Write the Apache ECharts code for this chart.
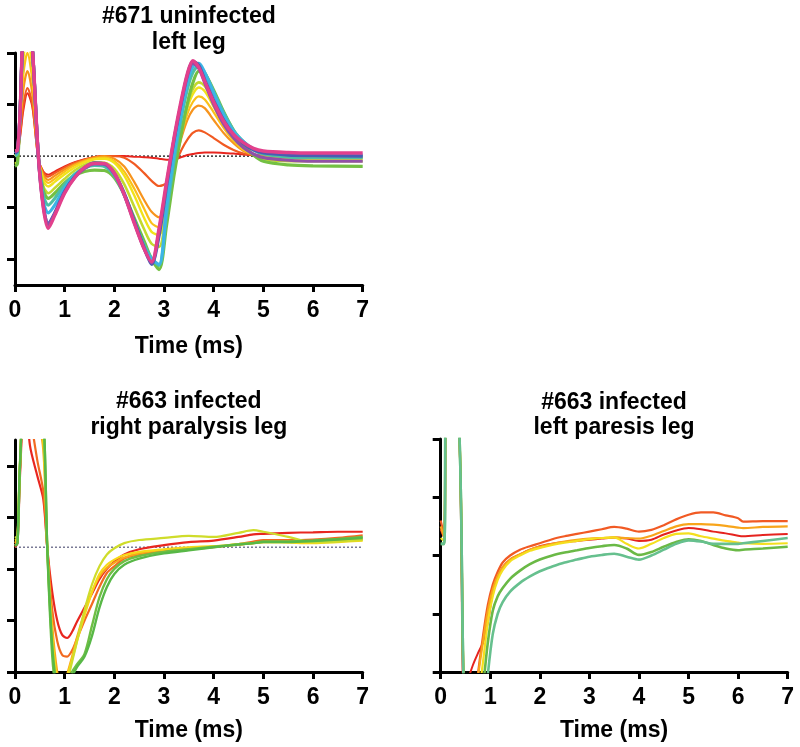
<!DOCTYPE html>
<html><head><meta charset="utf-8">
<script src="https://cdn.jsdelivr.net/npm/echarts@6/dist/echarts.min.js"></script>
<style>html,body{margin:0;padding:0;background:#fff}#c{width:800px;height:747px}</style>
</head><body><div id="c"></div>
<script>
// ---------- Panel 1: #671 uninfected, left leg ----------
const T1 = [0, 0.05, 0.1, 0.17, 0.25, 0.35, 0.47, 0.57, 0.67, 0.8, 1.0, 1.2, 1.4, 1.6, 1.8, 2.0, 2.2, 2.4, 2.6, 2.75, 2.9, 3.05, 3.2, 3.35, 3.47, 3.58, 3.7, 3.82, 4.0, 4.2, 4.4, 4.6, 4.8, 5.0, 5.5, 6.0, 7.0];
const p1Red = [0.0, 0.05, 0.35, 0.9, 1.22, 0.95, -0.05, -0.3, -0.36, -0.3, -0.2, -0.12, -0.06, -0.02, 0.0, 0.0, 0.0, -0.01, -0.02, -0.03, -0.05, -0.07, -0.06, -0.02, 0.02, 0.04, 0.06, 0.07, 0.07, 0.06, 0.05, 0.03, 0.02, 0.01, 0.0, 0.0, 0.0];
const p1OrangeRed = [0.0, 0.08, 0.4, 1.0, 1.32, 1.0, -0.05, -0.32, -0.4, -0.33, -0.22, -0.13, -0.07, -0.02, 0.0, 0.0, -0.03, -0.15, -0.33, -0.48, -0.58, -0.52, -0.2, 0.12, 0.32, 0.45, 0.5, 0.46, 0.35, 0.22, 0.12, 0.05, 0.02, 0.01, 0.0, 0.0, 0.0];
const p1Orange = [0.0, 0.08, 0.5, 1.3, 1.65, 1.2, -0.05, -0.37, -0.46, -0.38, -0.26, -0.16, -0.08, -0.03, 0.0, -0.05, -0.2, -0.5, -0.85, -1.08, -1.19, -0.85, -0.22, 0.35, 0.7, 0.9, 0.98, 0.93, 0.7, 0.45, 0.25, 0.1, 0.03, 0.0, 0.0, 0.0, 0.0];
const p1Gold = [0.0, 0.1, 0.6, 1.6, 2.0, 1.45, 0.0, -0.42, -0.52, -0.44, -0.3, -0.18, -0.1, -0.05, -0.03, -0.1, -0.3, -0.63, -1.02, -1.3, -1.38, -0.9, -0.2, 0.42, 0.82, 1.05, 1.16, 1.1, 0.85, 0.55, 0.3, 0.12, 0.03, -0.01, -0.03, -0.03, -0.03];
const p1Yellow = [0.0, 0.05, 0.7, 1.9, 2.3, 1.7, 0.0, -0.48, -0.59, -0.5, -0.35, -0.22, -0.12, -0.06, -0.05, -0.13, -0.38, -0.76, -1.2, -1.47, -1.53, -0.95, -0.2, 0.48, 0.93, 1.2, 1.33, 1.26, 0.96, 0.6, 0.33, 0.14, 0.03, -0.03, -0.05, -0.05, -0.05];
const p1YellowGreen = [-0.15, -0.1, 0.7, 2.2, 2.7, 1.9, 0.0, -0.58, -0.72, -0.62, -0.44, -0.28, -0.17, -0.12, -0.13, -0.25, -0.55, -0.98, -1.42, -1.7, -1.76, -1.05, -0.25, 0.5, 1.0, 1.3, 1.43, 1.36, 1.05, 0.7, 0.4, 0.18, 0.02, -0.06, -0.1, -0.1, -0.1];
const p1Green = [-0.2, -0.15, 0.8, 2.5, 3.0, 2.1, 0.0, -0.66, -0.82, -0.72, -0.52, -0.38, -0.3, -0.27, -0.28, -0.42, -0.75, -1.2, -1.65, -2.0, -2.2, -1.35, -0.38, 0.45, 1.02, 1.42, 1.65, 1.6, 1.28, 0.86, 0.5, 0.22, 0.02, -0.1, -0.17, -0.19, -0.2];
const p1Teal = [0.0, 0.05, 0.8, 2.5, 3.0, 2.1, 0.0, -0.76, -0.95, -0.82, -0.55, -0.35, -0.23, -0.18, -0.2, -0.38, -0.75, -1.25, -1.72, -1.98, -2.12, -1.15, -0.1, 0.75, 1.3, 1.62, 1.75, 1.62, 1.25, 0.84, 0.5, 0.28, 0.12, 0.04, -0.02, -0.03, -0.03];
const p1Cyan = [0.05, 0.1, 0.8, 2.5, 3.0, 2.1, 0.0, -0.88, -1.1, -0.95, -0.62, -0.38, -0.23, -0.15, -0.16, -0.35, -0.75, -1.28, -1.78, -2.0, -2.1, -1.0, 0.02, 0.85, 1.42, 1.74, 1.8, 1.62, 1.22, 0.8, 0.48, 0.28, 0.14, 0.07, 0.03, 0.02, 0.02];
const p1Blue = [0.05, 0.1, 0.8, 2.6, 3.0, 2.1, 0.0, -0.95, -1.3, -1.1, -0.68, -0.4, -0.22, -0.13, -0.15, -0.33, -0.72, -1.25, -1.78, -2.1, -1.55, -0.6, 0.3, 1.05, 1.58, 1.84, 1.76, 1.48, 1.08, 0.7, 0.42, 0.24, 0.12, 0.06, 0.02, 0.01, 0.0];
const p1Purple = [0.1, 0.12, 0.8, 2.6, 3.0, 2.1, 0.0, -0.98, -1.33, -1.12, -0.7, -0.42, -0.24, -0.15, -0.16, -0.35, -0.75, -1.28, -1.8, -2.07, -1.45, -0.55, 0.32, 1.05, 1.55, 1.8, 1.7, 1.42, 1.0, 0.62, 0.35, 0.16, 0.04, -0.03, -0.08, -0.1, -0.1];
const p1Magenta = [0.1, 0.12, 0.8, 2.6, 3.0, 2.1, 0.0, -1.0, -1.4, -1.15, -0.72, -0.42, -0.22, -0.14, -0.14, -0.33, -0.75, -1.3, -1.8, -2.05, -1.4, -0.5, 0.35, 1.1, 1.6, 1.85, 1.72, 1.45, 1.05, 0.68, 0.42, 0.26, 0.15, 0.1, 0.07, 0.06, 0.06];
const p1Baseline = 0;
const p1YTicks = [-2, -1, 0, 1, 2];

// ---------- Panel 2: #663 infected, right paralysis leg ----------
const T2 = [0, 0.05, 0.1, 0.2, 0.3, 0.45, 0.57, 0.65, 0.75, 0.85, 0.95, 1.05, 1.15, 1.25, 1.4, 1.55, 1.7, 1.85, 2.0, 2.2, 2.5, 3.0, 3.5, 4.0, 4.5, 4.8, 5.0, 5.5, 6.0, 6.5, 7.0];
const p2Red = [2.42, 2.5, 3.8, 5.5, 4.4, 3.8, 3.35, 2.4, 1.55, 1.0, 0.72, 0.66, 0.78, 0.98, 1.25, 1.52, 1.8, 2.0, 2.14, 2.28, 2.38, 2.46, 2.52, 2.55, 2.62, 2.67, 2.68, 2.7, 2.71, 2.72, 2.72];
const p2Orange = [2.45, 2.55, 3.9, 5.5, 5.0, 4.1, 3.5, 2.4, 1.2, 0.6, 0.33, 0.3, 0.42, 0.65, 1.0, 1.32, 1.65, 1.92, 2.05, 2.2, 2.28, 2.35, 2.38, 2.42, 2.48, 2.53, 2.56, 2.56, 2.57, 2.6, 2.65];
const p2Amber = [2.5, 2.6, 4.0, 5.5, 5.5, 5.0, 4.3, 2.4, 0.9, 0.0, -0.4, -0.05, 0.3, 0.68, 1.15, 1.55, 1.85, 2.02, 2.12, 2.22, 2.3, 2.37, 2.4, 2.43, 2.47, 2.5, 2.52, 2.53, 2.53, 2.55, 2.58];
const p2Yellow = [2.55, 2.6, 4.0, 5.5, 5.5, 5.2, 4.5, 2.4, 0.7, -0.15, -0.45, -0.1, 0.25, 0.6, 1.1, 1.55, 1.9, 2.08, 2.18, 2.27, 2.33, 2.38, 2.42, 2.44, 2.48, 2.5, 2.52, 2.51, 2.5, 2.52, 2.55];
const p2YellowGreen = [2.6, 2.65, 4.1, 5.5, 5.5, 5.3, 4.7, 2.4, 0.6, -0.3, -0.6, -0.2, 0.2, 0.6, 1.2, 1.7, 2.05, 2.28, 2.4, 2.5, 2.56, 2.6, 2.64, 2.62, 2.7, 2.75, 2.72, 2.62, 2.52, 2.53, 2.56];
const p2Green = [2.45, 2.5, 4.0, 5.5, 5.5, 5.5, 5.0, 2.4, 0.3, -0.5, -0.8, -0.4, 0.0, 0.15, 0.35, 0.9, 1.45, 1.8, 2.0, 2.15, 2.25, 2.33, 2.38, 2.43, 2.48, 2.5, 2.53, 2.53, 2.55, 2.58, 2.62];
const p2Green2 = [2.45, 2.5, 4.0, 5.5, 5.5, 5.5, 5.0, 2.4, 0.5, -0.4, -0.9, -0.6, -0.1, 0.1, 0.3, 0.7, 1.25, 1.65, 1.9, 2.08, 2.2, 2.3, 2.36, 2.42, 2.47, 2.5, 2.52, 2.52, 2.54, 2.57, 2.6];
const p2Baseline = 2.42;
const p2YTicks = [0, 1, 2, 3, 4];

// ---------- Panel 3: #663 infected, left paresis leg ----------
const T3 = [0, 0.07, 0.13, 0.36, 0.47, 0.55, 0.65, 0.75, 0.85, 0.95, 1.05, 1.15, 1.25, 1.4, 1.6, 1.8, 2.0, 2.25, 2.5, 2.75, 3.0, 3.25, 3.5, 3.75, 4.0, 4.25, 4.5, 4.75, 5.0, 5.25, 5.5, 5.75, 6.0, 6.1, 6.5, 7.0];
const p3Red = [2.45, 2.3, 6, 4.5, -0.5, -0.15, 0.12, 0.32, 0.5, 0.85, 1.35, 1.62, 1.8, 1.93, 2.02, 2.1, 2.16, 2.2, 2.23, 2.25, 2.27, 2.29, 2.31, 2.29, 2.25, 2.27, 2.36, 2.43, 2.47, 2.45, 2.41, 2.38, 2.34, 2.33, 2.35, 2.37];
const p3OrangeRed = [2.6, 2.35, 6, 4.5, -0.5, -1, -1, -0.05, 0.6, 1.15, 1.5, 1.72, 1.88, 2.0, 2.1, 2.16, 2.21, 2.28, 2.33, 2.37, 2.41, 2.45, 2.49, 2.46, 2.41, 2.44, 2.52, 2.62, 2.7, 2.74, 2.74, 2.69, 2.64, 2.58, 2.59, 2.59];
const p3Amber = [2.5, 2.3, 6, 4.5, -0.5, -1, -1, -0.1, 0.5, 1.05, 1.42, 1.65, 1.8, 1.93, 2.02, 2.1, 2.15, 2.2, 2.24, 2.27, 2.29, 2.3, 2.31, 2.3, 2.29, 2.34, 2.42, 2.5, 2.54, 2.54, 2.53, 2.51, 2.48, 2.47, 2.49, 2.5];
const p3Yellow = [2.3, 2.25, 6, 4.5, -0.5, -1, -1, -0.5, 0.15, 0.85, 1.3, 1.58, 1.75, 1.9, 2.0, 2.08, 2.13, 2.18, 2.22, 2.25, 2.28, 2.3, 2.31, 2.2, 2.12, 2.2, 2.3, 2.37, 2.38, 2.33, 2.29, 2.25, 2.22, 2.21, 2.2, 2.21];
const p3Green = [2.2, 2.2, 6, 4.5, -0.5, -1, -1, -1, -0.3, 0.5, 1.05, 1.3, 1.44, 1.6, 1.74, 1.85, 1.93, 2.0, 2.05, 2.09, 2.13, 2.16, 2.18, 2.12, 2.01, 2.06, 2.15, 2.23, 2.28, 2.25, 2.18, 2.12, 2.09, 2.1, 2.12, 2.15];
const p3Teal = [2.2, 2.2, 6, 4.5, -0.5, -1, -1, -1, -1, -0.05, 0.65, 1.0, 1.2, 1.38, 1.53, 1.64, 1.73, 1.81, 1.88, 1.93, 1.98, 2.01, 2.03, 1.98, 1.93, 2.0, 2.1, 2.2, 2.26, 2.24, 2.2, 2.2, 2.2, 2.21, 2.25, 2.3];
const p3YTicks = [0, 1, 2, 3, 4];

const xTicks = ['0', '1', '2', '3', '4', '5', '6', '7'];
const titles = [['#671 uninfected', 'left leg'], ['#663 infected', 'right paralysis leg'], ['#663 infected', 'left paresis leg']];
const xName = 'Time (ms)';

const FONT = '"Liberation Sans", Arial, Helvetica, sans-serif';

function xAx(gi) {
  return {
    type: 'value', gridIndex: gi, min: 0, max: 7, interval: 1,
    axisLine: { show: true, onZero: false, lineStyle: { color: '#000', width: 3 } },
    axisTick: { show: true, length: 7, lineStyle: { color: '#000', width: 3 } },
    axisLabel: { color: '#000', fontSize: 23, fontWeight: 'bold', fontFamily: FONT, margin: 14, lineHeight: 23,
      formatter: v => xTicks[Math.round(v)] },
    splitLine: { show: false }
  };
}
function yAx(gi, min, max, ticks) {
  return {
    type: 'value', gridIndex: gi, min: min, max: max,
    axisLine: { show: true, onZero: false, lineStyle: { color: '#000', width: 3 } },
    axisTick: { show: true, length: 8, customValues: ticks, lineStyle: { color: '#000', width: 3 } },
    axisLabel: { show: false, customValues: ticks },
    splitLine: { show: false }
  };
}
function ln(gi, T, vals, color, width) {
  return {
    type: 'line', xAxisIndex: gi, yAxisIndex: gi,
    data: T.map((t, i) => [t, vals[i]]),
    symbol: 'none', showSymbol: false, smooth: 0.3, clip: true,
    lineStyle: { color: color, width: width }, emphasis: { disabled: true }, silent: true
  };
}
function base(gi, b, color) {
  return {
    type: 'line', xAxisIndex: gi, yAxisIndex: gi,
    data: [[0, b], [7, b]], symbol: 'none', showSymbol: false, silent: true,
    lineStyle: { color: color, width: 1.3, type: [2, 2] }
  };
}

const series = [
  base(0, p1Baseline, '#111'),
  ln(0, T1, p1Red, '#e8261f', 2),
  ln(0, T1, p1OrangeRed, '#f15a22', 2.2),
  ln(0, T1, p1Orange, '#f7941d', 2.2),
  ln(0, T1, p1Gold, '#fbc01a', 2.2),
  ln(0, T1, p1Yellow, '#f1e21b', 2.4),
  ln(0, T1, p1YellowGreen, '#c3d92e', 2.6),
  ln(0, T1, p1Green, '#74c043', 3.2),
  ln(0, T1, p1Teal, '#4dbfa5', 3.2),
  ln(0, T1, p1Cyan, '#3cb5e6', 3.2),
  ln(0, T1, p1Blue, '#4a5cb3', 3.2),
  ln(0, T1, p1Purple, '#9150a8', 3.2),
  ln(0, T1, p1Magenta, '#e2408c', 3.4),

  base(1, p2Baseline, '#7a7a95'),
  ln(1, T2, p2Red, '#e8261f', 2.2),
  ln(1, T2, p2Orange, '#f26a21', 2.2),
  ln(1, T2, p2Amber, '#f9a61a', 2.2),
  ln(1, T2, p2Yellow, '#f6d918', 2.2),
  ln(1, T2, p2YellowGreen, '#cfdc2b', 2.2),
  ln(1, T2, p2Green, '#6fbe44', 2.4),
  ln(1, T2, p2Green2, '#58b847', 2.4),

  ln(2, T3, p3Red, '#e5231f', 2),
  ln(2, T3, p3OrangeRed, '#f15a24', 2.2),
  ln(2, T3, p3Amber, '#f8a51b', 2.2),
  ln(2, T3, p3Yellow, '#f4df1e', 2.2),
  ln(2, T3, p3Green, '#6ab946', 2.6),
  ln(2, T3, p3Teal, '#66c08e', 2.6)
];

const textEl = (x, y, s) => ({
  type: 'text', x: x, y: y, silent: true,
  style: { text: s, fill: '#000', font: 'bold 23px ' + FONT, textAlign: 'center', align: 'center',
    textVerticalAlign: 'middle', verticalAlign: 'middle', textBaseline: 'middle' }
});

const graphic = [
  textEl(188.8, 17, titles[0][0]), textEl(188.8, 43, titles[0][1]),
  textEl(188.8, 402, titles[1][0]), textEl(188.8, 428, titles[1][1]),
  textEl(614, 402.5, titles[2][0]), textEl(614, 428, titles[2][1]),
  textEl(188.8, 347, xName), textEl(188.8, 731, xName), textEl(614, 731, xName)
];

const chart = echarts.init(document.getElementById('c'), null, { renderer: 'canvas' });
chart.setOption({
  animation: false,
  backgroundColor: '#fff',
  grid: [
    { left: 15, top: 53, width: 347.7, height: 232, outerBoundsMode: 'none' },
    { left: 15, top: 440, width: 347.7, height: 232, outerBoundsMode: 'none' },
    { left: 440.7, top: 439, width: 347, height: 233, outerBoundsMode: 'none' }
  ],
  xAxis: [xAx(0), xAx(1), xAx(2)],
  yAxis: [yAx(0, -2.5, 2, p1YTicks), yAx(1, 0, 4.5, p2YTicks), yAx(2, 0, 4, p3YTicks)],
  series: series,
  graphic: graphic
});
</script></body></html>
